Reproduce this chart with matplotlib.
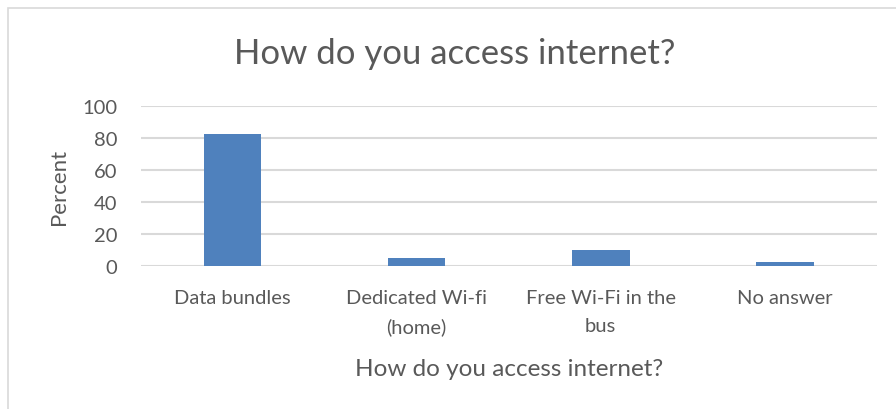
import matplotlib.pyplot as plt
from matplotlib.patches import Rectangle

categories = ["Data bundles", "Dedicated Wi-fi\n(home)", "Free Wi-Fi in the\nbus", "No answer"]
percent = [82, 5, 10, 2.5]
yticks = [0, 20, 40, 60, 80, 100]

title = "How do you access internet?"
text_color = "#595959"
grid_color = "#d9d9d9"
bar_color = "#4f81bd"

plt.rcParams['font.family'] = ['Lato', 'DejaVu Sans']

fig = plt.figure(figsize=(8.96, 4.10), dpi=100)
ax = fig.add_axes([0.157, 0.3495, 0.8215, 0.3903])

x = list(range(len(categories)))
ax.bar(x, percent, width=0.313, color=bar_color, zorder=3)

ax.set_xlim(-0.5, len(categories) - 0.5)
ax.set_ylim(0, 100)
ax.set_yticks(yticks)
ax.set_xticks(x)
ax.set_xticklabels(categories, linespacing=1.75, va='top', fontsize=15.5)

for spine in ax.spines.values():
    spine.set_visible(False)
ax.yaxis.grid(True, color=grid_color, linewidth=1.5, zorder=0)
ax.tick_params(axis='both', length=0, colors=text_color, labelsize=14.5)
ax.tick_params(axis='x', pad=17)
ax.tick_params(axis='y', pad=17)

ax.set_ylabel("Percent", fontsize=16, color=text_color, labelpad=9)
ax.set_xlabel(title, fontsize=17.5, color=text_color, labelpad=16)
fig.text(0.508, 0.868, title, fontsize=25, color=text_color, ha='center', va='center')

# chart frame
fig.patches.append(Rectangle((8 / 896, -0.1), 1.2, 1.1 - 9 / 410, transform=fig.transFigure,
                             fill=False, edgecolor=grid_color, linewidth=1.2))

fig.savefig("out.png", dpi=100)
